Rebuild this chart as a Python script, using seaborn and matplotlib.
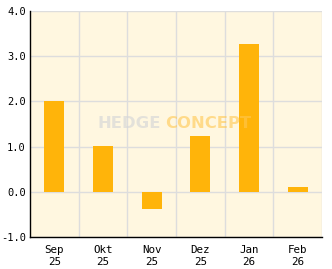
import matplotlib
matplotlib.use("Agg")
import matplotlib.pyplot as plt
import seaborn as sns
import pandas as pd
from matplotlib.ticker import FixedLocator, MultipleLocator, FormatStrFormatter

months = ["Sep\n25", "Okt\n25", "Nov\n25", "Dez\n25", "Jan\n26", "Feb\n26"]
values = [2.0, 1.02, -0.37, 1.23, 3.26, 0.10]

sns.set_style("white")
plt.rcParams['font.family'] = ['DejaVu Sans Mono', 'DejaVu Sans']
plt.rcParams['axes.unicode_minus'] = False

df = pd.DataFrame({"month": months, "value": values})

fig = plt.figure(figsize=(3.32, 2.69), dpi=100)
ax = fig.add_axes([30/332, (269-237)/269, 292/332, 226/269])
ax.set_facecolor("#FFF7E0")

sns.barplot(data=df, x="month", y="value", color="#FFB40A", saturation=1,
            width=0.41, ax=ax, zorder=3, linewidth=0, edgecolor="none")

ax.set_xlim(-0.5, 5.5)
ax.set_ylim(-1.0, 4.0)
ax.set_xlabel("")
ax.set_ylabel("")

ax.yaxis.set_major_locator(MultipleLocator(1.0))
ax.yaxis.set_minor_locator(MultipleLocator(0.5))
ax.yaxis.set_major_formatter(FormatStrFormatter("%.1f"))
ax.xaxis.set_minor_locator(FixedLocator([0.5, 1.5, 2.5, 3.5, 4.5, 5.5]))

ax.grid(True, axis="y", which="major", color="#DDDDDD", linewidth=1, zorder=1)
ax.grid(True, axis="x", which="minor", color="#DDDDDD", linewidth=1, zorder=1)
ax.set_axisbelow(True)

ax.tick_params(axis="x", which="major", length=0, labelsize=7.8, pad=6, colors="black")
ax.tick_params(axis="x", which="minor", length=5, direction="in", width=1, color="black")
ax.tick_params(axis="y", which="major", length=4, direction="in", width=1, labelsize=7.5, pad=3, colors="black")
ax.tick_params(axis="y", which="minor", length=4, direction="in", width=1, color="black")
for lab in ax.get_xticklabels():
    lab.set_linespacing(1.25)

for s in ["top", "right"]:
    ax.spines[s].set_visible(False)
for s in ["left", "bottom"]:
    ax.spines[s].set_color("black")
    ax.spines[s].set_linewidth(1)

fig.text(161/332, 1 - 124/269, "HEDGE", color="#D8D8D8", alpha=0.7,
         fontsize=11.8, fontweight="bold", family='DejaVu Sans',
         ha="right", va="center", zorder=10)
fig.text(165/332, 1 - 124/269, "CONCEPT", color="#FFC850", alpha=0.6,
         fontsize=11.8, fontweight="bold", family='DejaVu Sans',
         ha="left", va="center", zorder=10)

fig.savefig("out.png", dpi=100, facecolor="white")
